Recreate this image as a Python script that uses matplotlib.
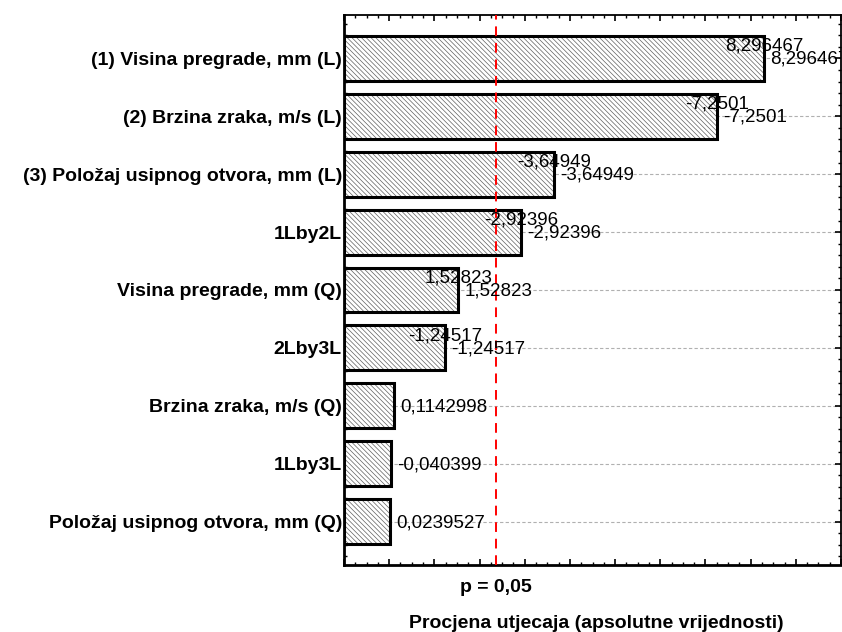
import matplotlib
matplotlib.use("Agg")
import matplotlib.pyplot as plt
from matplotlib.ticker import MultipleLocator
import matplotlib.transforms as mtransforms

plt.rcParams['font.family'] = ['Liberation Sans', 'DejaVu Sans']
plt.rcParams['hatch.linewidth'] = 0.5

categories = [
    "(1) Visina pregrade, mm (L)",
    "(2) Brzina zraka, m/s (L)",
    "(3) Položaj usipnog otvora, mm (L)",
    "1Lby2L",
    "Visina pregrade, mm (Q)",
    "2Lby3L",
    "Brzina zraka, m/s (Q)",
    "1Lby3L",
    "Položaj usipnog otvora, mm (Q)",
]
effects = [8.296467, -7.2501, -3.64949, -2.92396, 1.52823, -1.24517, 0.1142998, -0.040399, 0.0239527]
effect_labels = ["8,296467", "-7,2501", "-3,64949", "-2,92396", "1,52823", "-1,24517",
                 "0,1142998", "-0,040399", "0,0239527"]
show_upper = [True, True, True, True, True, True, False, False, False]
t_crit = 2.365
xmin, xmax = -1.0, 10.0

fig = plt.figure(figsize=(8.42, 6.32), dpi=100)
ax = fig.add_axes([344/842, 1 - 565/632, (841-344)/842, (565-15)/632])

ypos = list(range(len(categories)))
absvals = [abs(v) for v in effects]

# grid lines at bar centers
for y in ypos:
    ax.axhline(y, color='#b0b0b0', lw=0.8, ls=(0, (3, 2)), zorder=0)

widths = [a - xmin for a in absvals]
ax.barh(ypos, widths, left=xmin, height=0.776, color='white', edgecolor='#606060',
        hatch='\\\\\\\\\\\\\\', linewidth=0, zorder=2)
ax.barh(ypos, widths, left=xmin, height=0.776, fill=False, edgecolor='black',
        linewidth=2.2, zorder=3)

ax.axvline(t_crit, color='red', lw=1.4, ls=(0, (5, 3.5)), zorder=4)

off = mtransforms.offset_copy(ax.transData, fig=fig, x=6, y=-1, units='dots')
up = mtransforms.offset_copy(ax.transData, fig=fig, x=0, y=12, units='dots')
for y, a, lab, su in zip(ypos, absvals, effect_labels, show_upper):
    if su:
        ax.text(a, y, lab, transform=up, ha='center', va='center', fontsize=13.5, zorder=5)
    ax.text(a, y, lab, transform=off, ha='left', va='center', fontsize=13.5, zorder=5,
            clip_on=True)

ax.set_xlim(xmin, xmax)
ax.set_ylim(len(categories) - 0.25, -0.75)
ax.set_yticks(ypos)
ax.set_yticklabels(categories, fontweight='bold', fontsize=14)
ax.yaxis.set_minor_locator(MultipleLocator(0.2))
ax.xaxis.set_major_locator(MultipleLocator(1))
ax.xaxis.set_minor_locator(MultipleLocator(0.25))
ax.set_xticklabels([])
ax.tick_params(which='both', direction='in', top=True, right=True, bottom=True, left=True)
ax.tick_params(which='major', length=4, width=1.2)
ax.tick_params(which='minor', length=2, width=1)
ax.tick_params(axis='y', which='major', pad=1.5)

for s in ['left', 'bottom']:
    ax.spines[s].set_linewidth(2)
for s in ['top', 'right']:
    ax.spines[s].set_linewidth(1.3)

trans = mtransforms.blended_transform_factory(ax.transData, fig.transFigure)
fig.text(t_crit, 1 - 588/632, "p = 0,05", transform=trans, ha='center', va='center',
         fontweight='bold', fontsize=14)
fig.text(596/842, 1 - 623/632, "Procjena utjecaja (apsolutne vrijednosti)", ha='center',
         va='center', fontweight='bold', fontsize=14)

fig.savefig("out.png", dpi=100)
